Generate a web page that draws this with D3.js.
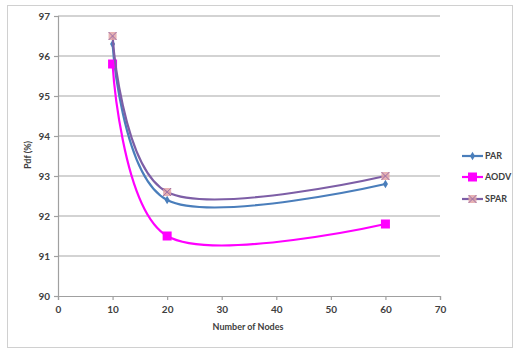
<!DOCTYPE html>
<html>
<head>
<meta charset="utf-8">
<script src="https://cdn.jsdelivr.net/npm/d3@7"></script>
<style>
  body { margin: 0; background: #fff; }
  text { font-family: Lato, "Open Sans", sans-serif; fill: #404040; }
</style>
</head>
<body>
<svg width="516" height="350"></svg>
<script>
var nodes = [10, 20, 60];
var par = [96.3, 92.4, 92.8];
var aodv = [95.8, 91.5, 91.8];
var spar = [96.5, 92.6, 93.0];
var seriesNames = ["PAR", "AODV", "SPAR"];
var xTicks = [0, 10, 20, 30, 40, 50, 60, 70];
var yTicks = [90, 91, 92, 93, 94, 95, 96, 97];

var svg = d3.select("svg");

// chart border
svg.append("rect")
  .attr("x", 7.5).attr("y", 5.5)
  .attr("width", 505).attr("height", 342)
  .attr("fill", "#fff")
  .attr("stroke", "#d0d0d0");

var xScale = d3.scaleLinear().domain([0, 70]).range([58, 440]);
var yScale = d3.scaleLinear().domain([90, 97]).range([296, 16]);

// gridlines
svg.append("g")
  .selectAll("line")
  .data(yTicks.slice(1))
  .enter()
  .append("line")
  .attr("x1", 58).attr("x2", 440)
  .attr("y1", (d) => yScale(d)).attr("y2", (d) => yScale(d))
  .attr("stroke", "#c4c4c4")
  .attr("stroke-width", 1.5);

var yAxis = d3.axisLeft(yScale).tickValues(yTicks).tickFormat(d3.format("d")).tickSize(4).tickPadding(4);
var xAxis = d3.axisBottom(xScale).tickValues(xTicks).tickFormat(d3.format("d")).tickSize(4).tickPadding(6);

var gy = svg.append("g").attr("transform", "translate(58,0)").call(yAxis);
var gx = svg.append("g").attr("transform", "translate(0,296)").call(xAxis);
[gy, gx].forEach(function (g) {
  g.selectAll("path, line").attr("stroke", "#a0a0a0").attr("stroke-width", 1.2);
  g.selectAll("text").style("font-size", "10px").style("font-weight", "bold").attr("fill", "#505050");
});

// axis titles
svg.append("text")
  .attr("x", 248).attr("y", 330)
  .style("text-anchor", "middle")
  .style("font-size", "9px").style("font-weight", "bold")
  .attr("fill", "#303030")
  .text("Number of Nodes");

svg.append("text")
  .attr("transform", "rotate(-90)")
  .attr("x", -155).attr("y", 31)
  .style("text-anchor", "middle")
  .style("font-size", "9px").style("font-weight", "bold")
  .attr("fill", "#303030")
  .text("Pdf (%)");

var series = [
  { name: seriesNames[0], values: par, color: "#4a7ebb", marker: "diamond" },
  { name: seriesNames[1], values: aodv, color: "#ff00ff", marker: "square" },
  { name: seriesNames[2], values: spar, color: "#7d5ea6", marker: "xsq" }
];

var line = d3.line()
  .x((d, i) => xScale(nodes[i]))
  .y((d) => yScale(d))
  .curve(d3.curveCardinal.tension(0));

function drawMarker(g, kind, color, x, y) {
  if (kind === "diamond") {
    g.append("path")
      .attr("d", d3.symbol(d3.symbolDiamond, 22)())
      .attr("transform", `translate(${x},${y})`)
      .attr("fill", color);
  } else if (kind === "square") {
    g.append("rect")
      .attr("x", x - 4.5).attr("y", y - 4.5)
      .attr("width", 9).attr("height", 9)
      .attr("fill", color);
  } else {
    g.append("rect")
      .attr("x", x - 4).attr("y", y - 4)
      .attr("width", 8).attr("height", 8)
      .attr("fill", "#e3a5a6").attr("opacity", 0.85);
    g.append("path")
      .attr("d", `M${x - 4},${y - 4}L${x + 4},${y + 4}M${x + 4},${y - 4}L${x - 4},${y + 4}`)
      .attr("stroke", "#9c6fa8").attr("stroke-width", 1);
  }
}

series.forEach(function (s) {
  svg.append("path")
    .datum(s.values)
    .attr("d", line)
    .attr("fill", "none")
    .attr("stroke", s.color)
    .attr("stroke-width", 2.2);
  var g = svg.append("g");
  s.values.forEach(function (v, i) {
    drawMarker(g, s.marker, s.color, xScale(nodes[i]), yScale(v));
  });
});

// legend
var legendY = [156, 177, 199];
series.forEach(function (s, i) {
  var g = svg.append("g");
  g.append("line")
    .attr("x1", 462).attr("x2", 483)
    .attr("y1", legendY[i]).attr("y2", legendY[i])
    .attr("stroke", s.color).attr("stroke-width", 2.2);
  drawMarker(g, s.marker, s.color, 472.5, legendY[i]);
  g.append("text")
    .attr("x", 485).attr("y", legendY[i])
    .attr("dy", "0.35em")
    .style("font-size", "9px").style("font-weight", "bold")
    .attr("fill", "#404040")
    .text(s.name);
});
</script>
</body>
</html>
